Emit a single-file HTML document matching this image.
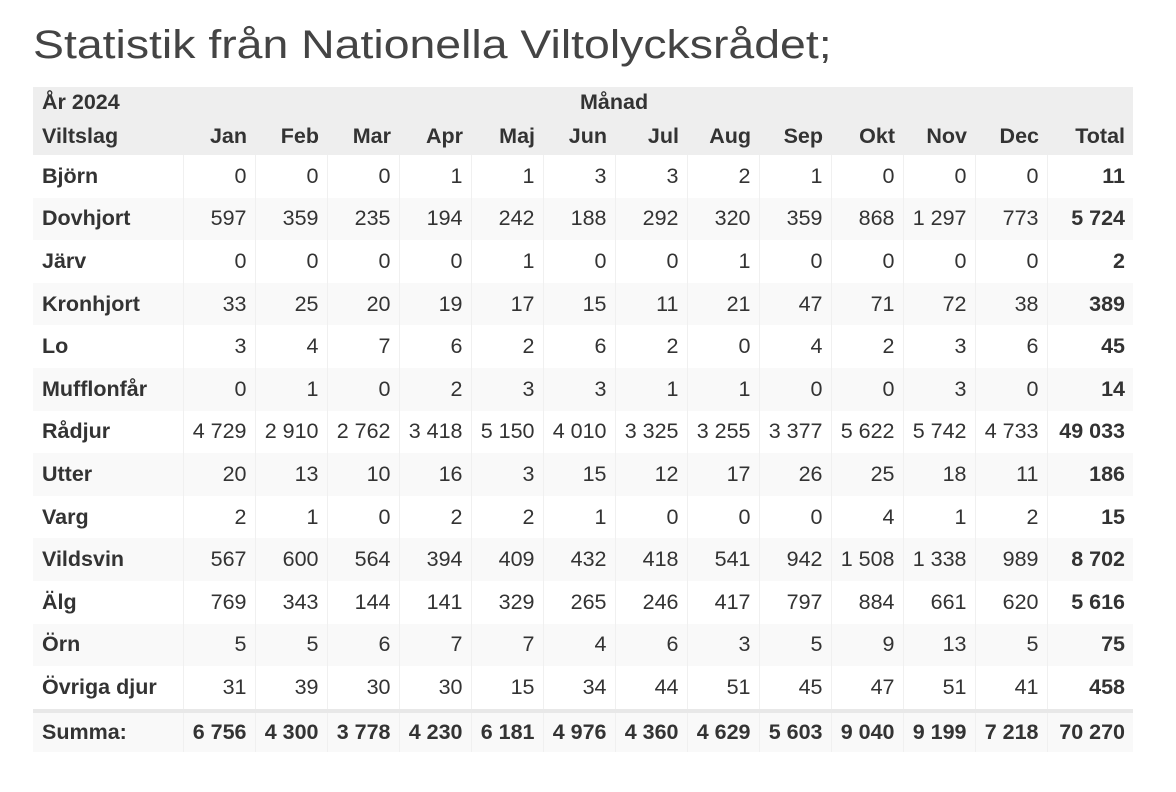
<!DOCTYPE html>
<html><head><meta charset="utf-8"><style>
body{margin:0;background:#fff;width:1176px;height:792px;overflow:hidden;font-family:"Liberation Sans",sans-serif;}
h1{position:absolute;left:33px;top:18px;margin:0;font-weight:normal;font-size:40px;color:#444;line-height:54px;transform:scaleX(1.16);transform-origin:left top;white-space:nowrap}
table{position:absolute;left:33px;top:87px;border-collapse:collapse;font-size:21.5px;color:#333;width:1100px;table-layout:fixed}
td,th{padding:0 8px 0 0;text-align:right;height:42.6px;border-left:1px solid #f0f0f0;white-space:nowrap}
td:first-child,th:first-child{text-align:left;padding-left:9px;font-weight:bold;border-left:none}
td:last-child{font-weight:bold}
thead th{background:#eee;font-weight:bold;border-left:none}
tr.h1 th{height:30px;vertical-align:middle}
tr.h2 th{height:38px}
tbody tr:nth-child(even) td{background:#f9f9f9}
tr.sum td{font-weight:bold;border-top:4px solid #e8e8e8;height:38px;padding-top:1px}
</style></head><body>
<h1>Statistik från Nationella Viltolycksrådet;</h1>
<table>
<colgroup><col style="width:150px"><col span="12" style="width:72px"><col style="width:86px"></colgroup>
<thead>
<tr class="h1"><th>År 2024</th><th colspan="13" style="text-align:left;padding-left:397px">Månad</th></tr>
<tr class="h2"><th>Viltslag</th><th>Jan</th><th>Feb</th><th>Mar</th><th>Apr</th><th>Maj</th><th>Jun</th><th>Jul</th><th>Aug</th><th>Sep</th><th>Okt</th><th>Nov</th><th>Dec</th><th>Total</th></tr>
</thead>
<tbody>
<tr><td>Björn</td><td>0</td><td>0</td><td>0</td><td>1</td><td>1</td><td>3</td><td>3</td><td>2</td><td>1</td><td>0</td><td>0</td><td>0</td><td>11</td></tr>
<tr><td>Dovhjort</td><td>597</td><td>359</td><td>235</td><td>194</td><td>242</td><td>188</td><td>292</td><td>320</td><td>359</td><td>868</td><td>1 297</td><td>773</td><td>5 724</td></tr>
<tr><td>Järv</td><td>0</td><td>0</td><td>0</td><td>0</td><td>1</td><td>0</td><td>0</td><td>1</td><td>0</td><td>0</td><td>0</td><td>0</td><td>2</td></tr>
<tr><td>Kronhjort</td><td>33</td><td>25</td><td>20</td><td>19</td><td>17</td><td>15</td><td>11</td><td>21</td><td>47</td><td>71</td><td>72</td><td>38</td><td>389</td></tr>
<tr><td>Lo</td><td>3</td><td>4</td><td>7</td><td>6</td><td>2</td><td>6</td><td>2</td><td>0</td><td>4</td><td>2</td><td>3</td><td>6</td><td>45</td></tr>
<tr><td>Mufflonfår</td><td>0</td><td>1</td><td>0</td><td>2</td><td>3</td><td>3</td><td>1</td><td>1</td><td>0</td><td>0</td><td>3</td><td>0</td><td>14</td></tr>
<tr><td>Rådjur</td><td>4 729</td><td>2 910</td><td>2 762</td><td>3 418</td><td>5 150</td><td>4 010</td><td>3 325</td><td>3 255</td><td>3 377</td><td>5 622</td><td>5 742</td><td>4 733</td><td>49 033</td></tr>
<tr><td>Utter</td><td>20</td><td>13</td><td>10</td><td>16</td><td>3</td><td>15</td><td>12</td><td>17</td><td>26</td><td>25</td><td>18</td><td>11</td><td>186</td></tr>
<tr><td>Varg</td><td>2</td><td>1</td><td>0</td><td>2</td><td>2</td><td>1</td><td>0</td><td>0</td><td>0</td><td>4</td><td>1</td><td>2</td><td>15</td></tr>
<tr><td>Vildsvin</td><td>567</td><td>600</td><td>564</td><td>394</td><td>409</td><td>432</td><td>418</td><td>541</td><td>942</td><td>1 508</td><td>1 338</td><td>989</td><td>8 702</td></tr>
<tr><td>Älg</td><td>769</td><td>343</td><td>144</td><td>141</td><td>329</td><td>265</td><td>246</td><td>417</td><td>797</td><td>884</td><td>661</td><td>620</td><td>5 616</td></tr>
<tr><td>Örn</td><td>5</td><td>5</td><td>6</td><td>7</td><td>7</td><td>4</td><td>6</td><td>3</td><td>5</td><td>9</td><td>13</td><td>5</td><td>75</td></tr>
<tr><td>Övriga djur</td><td>31</td><td>39</td><td>30</td><td>30</td><td>15</td><td>34</td><td>44</td><td>51</td><td>45</td><td>47</td><td>51</td><td>41</td><td>458</td></tr>
<tr class="sum"><td>Summa:</td><td>6 756</td><td>4 300</td><td>3 778</td><td>4 230</td><td>6 181</td><td>4 976</td><td>4 360</td><td>4 629</td><td>5 603</td><td>9 040</td><td>9 199</td><td>7 218</td><td>70 270</td></tr>
</tbody>
</table>
</body></html>
